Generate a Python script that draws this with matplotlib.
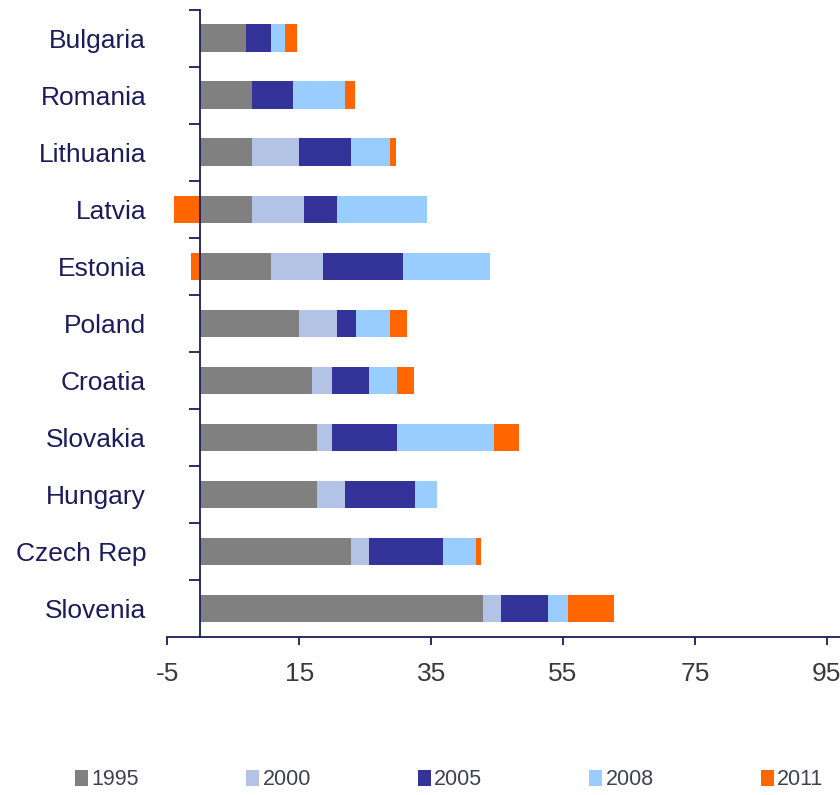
import matplotlib
matplotlib.use("Agg")
import matplotlib.pyplot as plt
import numpy as np
from matplotlib.ticker import FixedLocator, NullFormatter

plt.rcParams['font.family'] = ['Liberation Sans', 'DejaVu Sans']

countries = ["Bulgaria", "Romania", "Lithuania", "Latvia", "Estonia", "Poland",
             "Croatia", "Slovakia", "Hungary", "Czech Rep", "Slovenia"]
years = ["1995", "2000", "2005", "2008", "2011"]

v1995 = [7.0, 7.9, 7.8, 7.8, 10.7, 14.9, 16.9, 17.7, 17.7, 22.8, 42.8]
v2000 = [0.0, 0.0, 7.1, 7.9, 7.9, 5.9, 3.1, 2.2, 4.2, 2.8, 2.8]
v2005 = [3.7, 6.2, 7.9, 5.1, 12.1, 2.8, 5.6, 9.9, 10.7, 11.2, 7.1]
v2008 = [2.2, 7.9, 5.9, 13.5, 13.2, 5.1, 4.3, 14.8, 3.3, 5.0, 3.0]
v2011 = [1.7, 1.4, 0.9, -4.0, -1.4, 2.6, 2.5, 3.8, 0.0, 0.7, 7.1]

series = [v1995, v2000, v2005, v2008, v2011]
colors = ["#808080", "#b3c3e6", "#333399", "#99ccff", "#ff6600"]

xticks = [-5, 15, 35, 55, 75, 95]

navy = "#1c1c5c"

fig = plt.figure(figsize=(8.4, 7.95), dpi=100)
ax = fig.add_axes([0.1992, 0.1987, 0.8008, 0.7893])

y = np.arange(len(countries))
pos_left = np.zeros(len(countries))
neg_left = np.zeros(len(countries))
for vals, col, yr in zip(series, colors, years):
    vals = np.array(vals, dtype=float)
    left = np.where(vals >= 0, pos_left, neg_left)
    ax.barh(y, vals, left=left, height=0.48, color=col, label=yr, linewidth=0)
    pos_left = pos_left + np.where(vals >= 0, vals, 0)
    neg_left = neg_left + np.where(vals < 0, vals, 0)

ax.set_ylim(len(countries) - 0.5, -0.5)
ax.set_xlim(-5, 97)

ax.spines['top'].set_visible(False)
ax.spines['right'].set_visible(False)
ax.spines['left'].set_position(('data', 0))
for s in ('left', 'bottom'):
    ax.spines[s].set_color(navy)
    ax.spines[s].set_linewidth(1.3)

ax.set_xticks(xticks)
ax.set_xticklabels([str(t) for t in xticks])
ax.tick_params(axis='x', direction='out', length=6, width=1.3, color=navy,
               labelsize=19, labelcolor="#3a3a3a", pad=12)

ax.set_yticks(y)
ax.set_yticklabels(countries)
ax.tick_params(axis='y', which='major', length=0, labelsize=19,
               labelcolor=navy, pad=39)
ax.yaxis.set_minor_locator(FixedLocator(np.arange(-0.5, len(countries) - 0.5, 1.0)))
ax.yaxis.set_minor_formatter(NullFormatter())
ax.tick_params(axis='y', which='minor', direction='out', length=8, width=1.3, color=navy)

leg = fig.legend(loc='center', bbox_to_anchor=(0.535, 0.019), ncol=5, frameon=False,
                 fontsize=15.5, handlelength=0.6, handleheight=0.75,
                 handletextpad=0.15, columnspacing=4.98, labelcolor="#404050")

fig.savefig("out.png", dpi=100)
